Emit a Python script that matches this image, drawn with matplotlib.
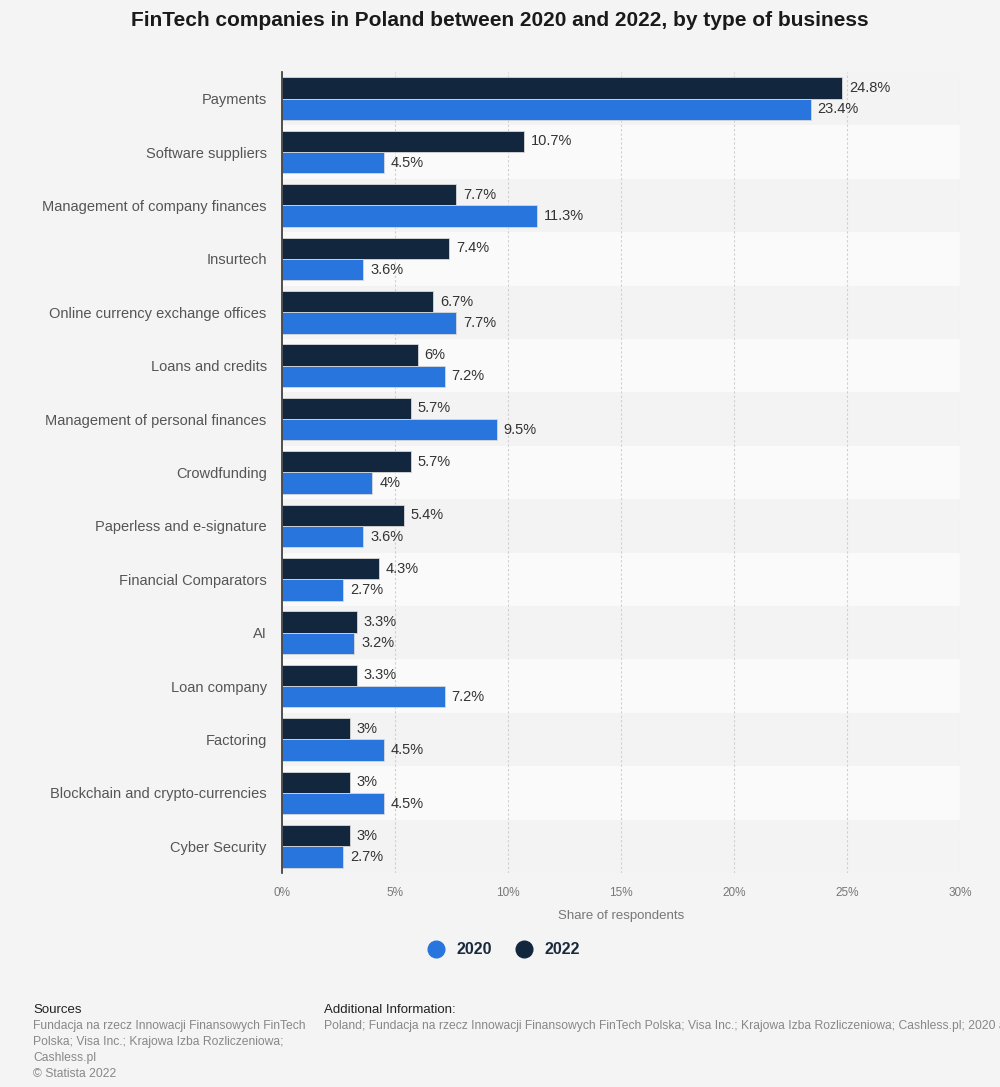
import numpy as np
import matplotlib.pyplot as plt
from matplotlib.lines import Line2D

plt.rcParams['font.family'] = ['Liberation Sans', 'DejaVu Sans']

categories = ['Payments', 'Software suppliers', 'Management of company finances',
              'Insurtech', 'Online currency exchange offices', 'Loans and credits',
              'Management of personal finances', 'Crowdfunding',
              'Paperless and e-signature', 'Financial Comparators', 'AI',
              'Loan company', 'Factoring', 'Blockchain and crypto-currencies',
              'Cyber Security']
share_2022 = [24.8, 10.7, 7.7, 7.4, 6.7, 6, 5.7, 5.7, 5.4, 4.3, 3.3, 3.3, 3, 3, 3]
share_2020 = [23.4, 4.5, 11.3, 3.6, 7.7, 7.2, 9.5, 4, 3.6, 2.7, 3.2, 7.2, 4.5, 4.5, 2.7]
xticks = [0, 5, 10, 15, 20, 25, 30]

c2020 = '#2876dd'
c2022 = '#12263d'
bg = '#f4f4f4'

fig = plt.figure(figsize=(10, 10.87), dpi=100, facecolor=bg)
ax = fig.add_axes([0.282, 0.1969, 0.678, 0.7369])
ax.set_facecolor(bg)

y = np.arange(len(categories))
h = 0.4

# alternating row bands
for i in y:
    col = '#f3f3f3' if i % 2 == 0 else '#fafafa'
    ax.axhspan(i - 0.5, i + 0.5, color=col, zorder=0, lw=0)

for xv in xticks[1:]:
    ax.axvline(xv, color='#cfcfcf', lw=0.8, ls=(0, (2, 2)), zorder=1)

ax.barh(y - h / 2, share_2022, height=h, color=c2022, edgecolor='#d8d8d8', lw=0.6, zorder=2)
ax.barh(y + h / 2, share_2020, height=h, color=c2020, edgecolor='#d8d8d8', lw=0.6, zorder=2)

for i in y:
    ax.text(share_2022[i] + 0.3, i - h / 2, f'{share_2022[i]:g}%', va='center', ha='left',
            fontsize=10.5, color='#333333', zorder=3)
    ax.text(share_2020[i] + 0.3, i + h / 2, f'{share_2020[i]:g}%', va='center', ha='left',
            fontsize=10.5, color='#333333', zorder=3)

ax.set_xlim(0, 30)
ax.set_ylim(len(categories) - 0.5, -0.5)
ax.set_yticks(y)
ax.set_yticklabels(categories, fontsize=10.5, color='#555555')
ax.set_xticks(xticks)
ax.set_xticklabels([f'{t}%' for t in xticks], fontsize=8.5, color='#777777')
ax.tick_params(axis='y', length=0, pad=11)
ax.tick_params(axis='x', length=0, pad=10)
for s in ['top', 'right', 'bottom']:
    ax.spines[s].set_visible(False)
ax.spines['left'].set_color('#333333')
ax.spines['left'].set_linewidth(1.2)
ax.set_xlabel('Share of respondents', fontsize=9.5, color='#777777', labelpad=8)

fig.text(0.5, 1 - 21 / 1087, 'FinTech companies in Poland between 2020 and 2022, by type of business',
         ha='center', va='center', fontsize=15, fontweight='bold', color='#1a1a1a')

handles = [Line2D([], [], marker='o', ls='', color=c2020, markersize=12),
           Line2D([], [], marker='o', ls='', color=c2022, markersize=12)]
leg = fig.legend(handles, ['2020', '2022'], loc='center', bbox_to_anchor=(0.5, 1 - 950 / 1087),
                 ncol=2, frameon=False, handletextpad=0.3, columnspacing=1.0,
                 prop={'size': 11.5, 'weight': 'bold'})
for t in leg.get_texts():
    t.set_color('#1a2a3d')

fig.text(33 / 1000, 1 - 1010 / 1087, 'Sources', fontsize=9.5, color='#222222', va='center')
src = ['Fundacja na rzecz Innowacji Finansowych FinTech', 'Polska; Visa Inc.; Krajowa Izba Rozliczeniowa;',
       'Cashless.pl', '\u00a9 Statista 2022']
for k, line in enumerate(src):
    fig.text(33 / 1000, 1 - (1026 + 16 * k) / 1087, line, fontsize=8.7, color='#888888', va='center')
fig.text(324 / 1000, 1 - 1010 / 1087, 'Additional Information:', fontsize=9.5, color='#222222', va='center')
fig.text(324 / 1000, 1 - 1026 / 1087,
         'Poland; Fundacja na rzecz Innowacji Finansowych FinTech Polska; Visa Inc.; Krajowa Izba Rozliczeniowa; Cashless.pl; 2020 and 2022',
         fontsize=8.7, color='#888888', va='center')

fig.savefig('out.png', dpi=100, facecolor=bg)
